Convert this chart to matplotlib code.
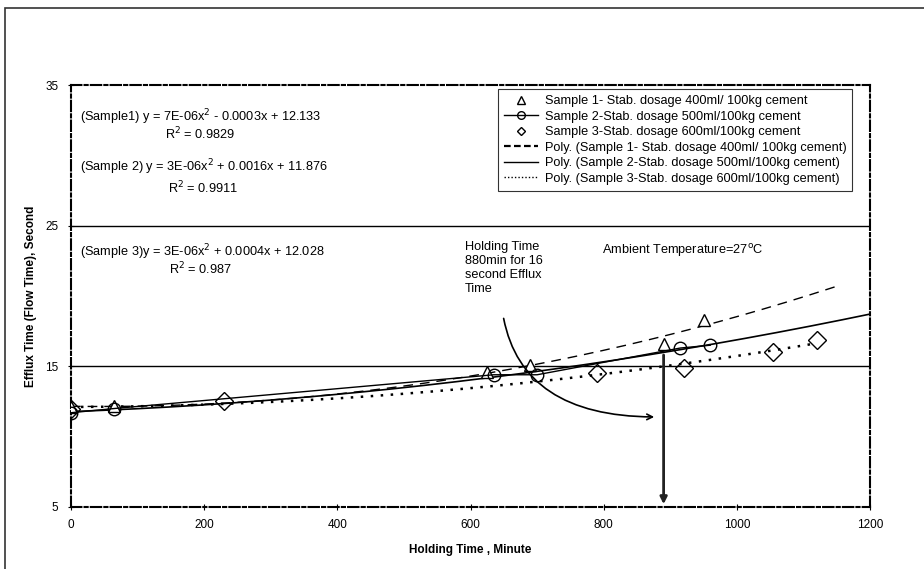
import numpy as np
import matplotlib.pyplot as plt
from matplotlib.patches import Rectangle
from matplotlib.lines import Line2D

plt.rcParams['font.family'] = ['Liberation Sans', 'DejaVu Sans']

# ======================
# Data
# ======================
t1 = [0, 65, 625, 690, 890, 950]
y1 = [12.1, 12.2, 14.6, 15.1, 16.6, 18.3]

t2 = [0, 65, 635, 700, 915, 960]
y2 = [11.7, 12.0, 14.4, 14.4, 16.3, 16.5]

t3 = [0, 230, 790, 920, 1055, 1120]
y3 = [12.0, 12.5, 14.5, 14.9, 16.0, 16.9]

# trendline ranges (Excel forecast forward)
end1, end2, end3 = 1150, 1200, 1120

x_ticks = [0, 200, 400, 600, 800, 1000, 1200]
y_ticks = [5, 15, 25, 35]

lab1 = "Sample 1- Stab. dosage 400ml/ 100kg cement"
lab2 = "Sample 2-Stab. dosage 500ml/100kg cement"
lab3 = "Sample 3-Stab. dosage 600ml/100kg cement"

# ======================
# Figure
# ======================
fig = plt.figure(figsize=(9.24, 5.69), dpi=100)
ax = fig.add_axes([0.0768, 0.109, 0.8648, 0.7416])

# quadratic trendlines
p1 = np.polyfit(t1, y1, 2)
p2 = np.polyfit(t2, y2, 2)
p3 = np.polyfit(t3, y3, 2)
xx1 = np.linspace(0, end1, 200)
xx2 = np.linspace(0, end2, 200)
xx3 = np.linspace(0, end3, 200)

# gridlines
for g in [15, 25]:
    ax.axhline(g, color='black', lw=1.0, zorder=1)

ax.plot(xx1, np.polyval(p1, xx1), color='black', lw=1.0, ls=(0, (7, 5)), zorder=2)
ax.plot(xx2, np.polyval(p2, xx2), color='black', lw=1.2, ls='-', zorder=2)
ax.plot(xx3, np.polyval(p3, xx3), color='black', lw=1.8, ls=(0, (1, 3)), zorder=2)

ax.plot(t1, y1, ls='none', marker='^', ms=9, mfc='white', mec='black', mew=1.0, zorder=3)
ax.plot(t2, y2, ls='-', color='black', lw=1.0, marker='o', ms=9, mfc='none', mec='black', mew=1.0, zorder=3)
ax.plot(t3, y3, ls='none', marker='D', ms=9, mfc='none', mec='black', mew=1.0, zorder=3)

# arrows
ax.annotate('', xy=(890, 5), xytext=(890, 16.0),
            arrowprops=dict(arrowstyle='-|>', color='#222222', lw=2.0, mutation_scale=10))
ax.annotate('', xy=(880, 11.4), xytext=(649, 18.6),
            arrowprops=dict(arrowstyle='->', color='black', lw=1.2,
                            connectionstyle='angle3,angleA=-80,angleB=0'))

# texts
fs = 9.2
ax.text(13, 32.72, "(Sample1) y = 7E-06x$^2$ - 0.0003x + 12.133", fontsize=fs, va='center')
ax.text(194, 31.55, "R$^2$ = 0.9829", fontsize=fs, va='center', ha='center')
ax.text(13, 29.16, "(Sample 2) y = 3E-06x$^2$ + 0.0016x + 11.876", fontsize=fs, va='center')
ax.text(198, 27.7, "R$^2$ = 0.9911", fontsize=fs, va='center', ha='center')
ax.text(13, 23.12, "(Sample 3)y = 3E-06x$^2$ + 0.0004x + 12.028", fontsize=fs, va='center')
ax.text(194, 21.95, "R$^2$ = 0.987", fontsize=fs, va='center', ha='center')
ax.text(592, 20.1, "Holding Time\n880min for 16\nsecond Efflux\nTime", fontsize=fs,
        va='bottom', ha='left', linespacing=1.2)
ax.text(798, 23.2, "Ambient Temperature=27$^\\mathrm{o}$C", fontsize=fs, va='center')

# legend
handles = [
    Line2D([], [], ls='none', marker='^', ms=5.5, mfc='white', mec='black'),
    Line2D([], [], ls='-', color='black', lw=1.0, marker='o', ms=5.5, mfc='none', mec='black'),
    Line2D([], [], ls='none', marker='D', ms=4.5, mfc='none', mec='black'),
    Line2D([], [], ls=(0, (3, 1.5)), color='black', lw=1.6),
    Line2D([], [], ls='-', color='black', lw=1.0),
    Line2D([], [], ls=(0, (1, 1.5)), color='black', lw=1.0),
]
labels = [lab1, lab2, lab3, "Poly. (" + lab1 + ")", "Poly. (" + lab2 + ")", "Poly. (" + lab3 + ")"]
leg = ax.legend(handles, labels, loc='upper right', bbox_to_anchor=(0.9775, 0.99),
                fontsize=9.2, frameon=True, fancybox=False, edgecolor='black',
                handlelength=2.7, handletextpad=0.5, labelspacing=0.28, borderpad=0.45,
                borderaxespad=0)
leg.get_frame().set_linewidth(0.8)

# axes
ax.set_xlim(0, 1200)
ax.set_ylim(5, 35)
ax.set_xticks(x_ticks)
ax.set_yticks(y_ticks)
ax.tick_params(axis='both', labelsize=8.5, length=4, width=0.8, direction='inout', pad=7)
for s in ax.spines.values():
    s.set_linestyle((0, (5, 1.5, 1.5, 1.5)))
    s.set_linewidth(1.5)
ax.set_xlabel("Holding Time , Minute", fontsize=8.5, fontweight='bold', labelpad=9)
ax.set_ylabel("Efflux Time (Flow Time), Second", fontsize=8.5, fontweight='bold', labelpad=6)

# outer chart frame
fig.add_artist(Rectangle((0.0054, -0.1), 1.2, 1.086, transform=fig.transFigure,
                         fill=False, lw=1.2, ec='#333333'))

plt.savefig("out.png", dpi=100)
